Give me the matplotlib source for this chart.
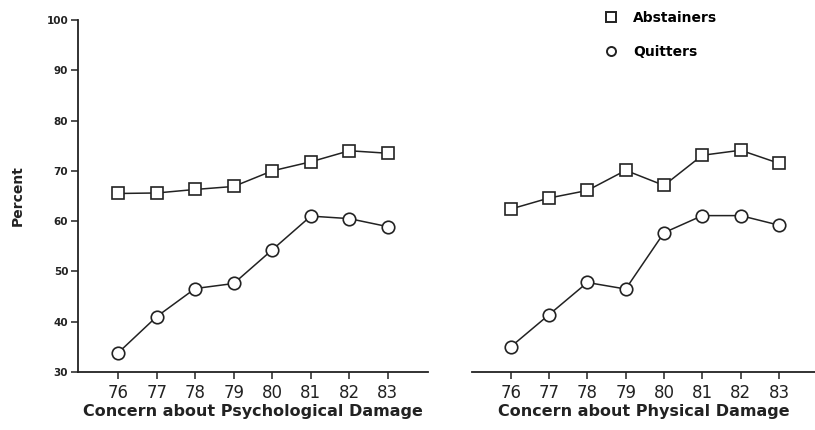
import matplotlib
matplotlib.use("Agg")
import matplotlib.pyplot as plt
from matplotlib.lines import Line2D

years = [76, 77, 78, 79, 80, 81, 82, 83]
year_labels = ["76", "77", "78", "79", "80", "81", "82", "83"]
y_ticks = [30, 40, 50, 60, 70, 80, 90, 100]

psych_abstainers = [65.5, 65.6, 66.3, 66.9, 70.0, 71.8, 74.0, 73.5]
psych_quitters = [33.8, 41.0, 46.6, 47.6, 54.3, 61.0, 60.5, 58.9]
phys_abstainers = [62.4, 64.6, 66.1, 70.1, 67.1, 73.1, 74.1, 71.5]
phys_quitters = [35.0, 41.4, 47.8, 46.5, 57.7, 61.1, 61.1, 59.2]

W, H = 815, 430
fig = plt.figure(figsize=(W / 100, H / 100), dpi=100)
bottom = (H - 372) / H
height = (372 - 20) / H
ax1 = fig.add_axes([78 / W, bottom, (428 - 78) / W, height])
ax2 = fig.add_axes([472 / W, bottom, (815 - 472) / W, height])

lw = 1.1
mk = dict(markersize=9, markerfacecolor="white", markeredgecolor="#222222",
          markeredgewidth=1.2, color="#222222", linewidth=lw)

for ax, ab, qu, xl in [(ax1, psych_abstainers, psych_quitters, "Concern about Psychological Damage"),
                       (ax2, phys_abstainers, phys_quitters, "Concern about Physical Damage")]:
    ax.plot(years, ab, marker="s", **mk)
    ax.plot(years, qu, marker="o", **mk)
    ax.set_ylim(30, 100)
    ax.set_xticks(years)
    ax.set_xticklabels(year_labels, fontsize=12, color="#222222")
    ax.set_xlabel(xl, fontsize=11.5, fontweight="semibold", color="#222222", labelpad=1)
    for s in ["top", "right"]:
        ax.spines[s].set_visible(False)
    ax.spines["bottom"].set_linewidth(1.3)
    ax.spines["bottom"].set_color("#222222")
    ax.tick_params(axis="x", direction="out", length=5, width=1.1, colors="#222222", pad=4)

ax1.set_xlim(74.96, 84.04)
ax2.set_xlim(74.99, 83.94)

ax1.spines["left"].set_linewidth(1.3)
ax1.spines["left"].set_color("#222222")
ax1.set_yticks(y_ticks)
ax1.set_yticklabels([str(v) for v in y_ticks], fontsize=7.5, fontweight="bold", color="#222222")
ax1.tick_params(axis="y", direction="out", length=5, width=1.1, colors="#222222", pad=2)
ax1.set_ylabel("Percent", fontsize=10, fontweight="semibold", color="#222222", labelpad=16)

ax2.spines["left"].set_visible(False)
ax2.set_yticks([])

handles = [
    Line2D([], [], marker="s", linestyle="none", markersize=7, markerfacecolor="white",
           markeredgecolor="#222222", markeredgewidth=1.4, label="Abstainers"),
    Line2D([], [], marker="o", linestyle="none", markersize=6.5, markerfacecolor="white",
           markeredgecolor="#222222", markeredgewidth=1.4, label="Quitters"),
]
fig.legend(handles=handles, loc="upper left", bbox_to_anchor=(604 / W, 1 - 11 / H),
           frameon=False, handlelength=1.0, handletextpad=1.1, labelspacing=1.45,
           prop={"size": 10, "weight": "bold"}, borderaxespad=0, borderpad=0)

fig.savefig("out.png", dpi=100, facecolor="white")
